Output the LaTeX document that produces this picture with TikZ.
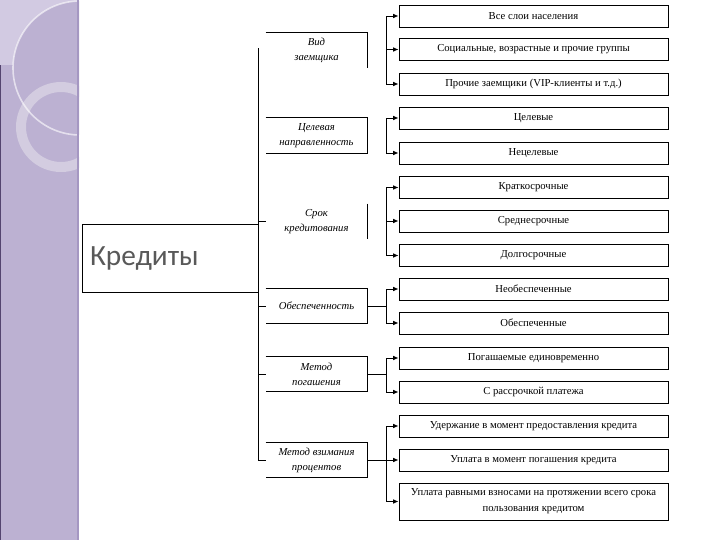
\documentclass[tikz,border=0pt]{standalone}
\usepackage{fontspec}
\setmainfont{Liberation Serif}
\newfontfamily\krfont{Carlito}
\usetikzlibrary{arrows.meta}
\definecolor{panel}{HTML}{BCB1D2}
\definecolor{panellight}{HTML}{D2CAE2}
\definecolor{panelring}{HTML}{D3CCE0}
\definecolor{paneledge}{HTML}{A597C2}
\definecolor{paneldark}{HTML}{54446F}
\definecolor{krtext}{HTML}{595959}
\begin{document}
\begin{tikzpicture}[x=0.75pt,y=-0.75pt,line width=0.7pt,
  item/.style={draw, minimum width=201.75pt, minimum height=16.5pt, inner sep=1pt,
    font=\fontsize{8}{12}\selectfont, align=center},
  cat/.style={minimum width=75.75pt, minimum height=26pt, inner sep=1pt,
    font=\fontsize{8}{11.25}\selectfont\itshape, align=center},
  arr/.style={-{Latex[length=4pt,width=3.5pt]}}]
\useasboundingbox (0,0) rectangle (720,540);
% left decorative panel
\begin{scope}
  \clip (0,0) rectangle (79,540);
  \fill[panel] (0,0) rectangle (79,540);
  \fill[panellight] (0,0) rectangle (79,65);
  \fill[panel] (80,68) circle (67);
  \fill[panelring, even odd rule] (61,127) circle (45) (61,127) circle (35);
  \draw[white, opacity=0.6, line width=1.2pt] (80,68) circle (67);
\end{scope}
\draw[paneldark, line width=1.2pt] (0.6,65) -- (0.6,540);
\draw[paneledge, line width=1.5pt] (78,0) -- (78,540);

% root
\node[draw, minimum width=132pt, minimum height=51pt, text width=120pt, inner xsep=6pt,
  align=left, text=krtext, font=\krfont\fontsize{22}{24}\selectfont] (kr) at (170,258) {Кредиты};

% categories
\node[cat] (c1) at (316.5,50.5) {Вид\\заемщика};
\node[cat] (c2) at (316.5,135.5) {Целевая\\направленность};
\node[cat] (c3) at (316.5,221.5) {Срок\\кредитования};
\node[cat] (c4) at (316.5,306) {Обеспеченность};
\node[cat] (c5) at (316.5,374) {Метод\\погашения};
\node[cat] (c6) at (316.5,460) {Метод взимания\\процентов};
\draw (c1.north west) -- (c1.north east) -- (c1.south east);
\draw (c2.north west) -- (c2.north east) -- (c2.south east) -- (c2.south west);
\draw (c3.north east) -- (c3.south east);
\draw (c4.north west) -- (c4.north east) -- (c4.south east) -- (c4.south west);
\draw (c5.north west) -- (c5.north east) -- (c5.south east) -- (c5.south west);
\draw (c6.north west) -- (c6.north east) -- (c6.south east) -- (c6.south west);

% main line
\coordinate (mt) at (258,48);
\draw (mt) -- (mt |- c6.west) -- (c6.west);
\draw (mt |- c3.west) -- (c3.west);
\draw (mt |- c4.west) -- (c4.west);
\draw (mt |- c5.west) -- (c5.west);

% leaves
\node[item] (b1) at (533.5,16) {Все слои населения};
\node[item] (b2) at (533.5,49.5) {Социальные, возрастные и прочие группы};
\node[item] (b3) at (533.5,84) {Прочие заемщики (VIP-клиенты и т.д.)};
\node[item] (b4) at (533.5,118) {Целевые};
\node[item] (b5) at (533.5,153) {Нецелевые};
\node[item] (b6) at (533.5,187.5) {Краткосрочные};
\node[item] (b7) at (533.5,221) {Среднесрочные};
\node[item] (b8) at (533.5,255.5) {Долгосрочные};
\node[item] (b9) at (533.5,289) {Необеспеченные};
\node[item] (b10) at (533.5,323) {Обеспеченные};
\node[item] (b11) at (533.5,358) {Погашаемые единовременно};
\node[item] (b12) at (533.5,392) {С рассрочкой платежа};
\node[item] (b13) at (533.5,426) {Удержание в момент предоставления кредита};
\node[item] (b14) at (533.5,460) {Уплата в момент погашения кредита};
\node[item, minimum height=27.75pt] (b15) at (533.5,501.5) {Уплата равными взносами на протяжении всего срока\\пользования кредитом};

% brackets
\coordinate (bx) at (386,0);
\draw (bx |- b1.west) -- (bx |- b3.west);
\foreach \b in {b1,b2,b3} \draw[arr] (bx |- \b.west) -- (\b.west);
\draw (bx |- b4.west) -- (bx |- b5.west);
\foreach \b in {b4,b5} \draw[arr] (bx |- \b.west) -- (\b.west);
\draw (bx |- b6.west) -- (bx |- b8.west);
\foreach \b in {b6,b7,b8} \draw[arr] (bx |- \b.west) -- (\b.west);
\draw (c4.east) -- (bx |- c4.east);
\draw (bx |- b9.west) -- (bx |- b10.west);
\foreach \b in {b9,b10} \draw[arr] (bx |- \b.west) -- (\b.west);
\draw (c5.east) -- (bx |- c5.east);
\draw (bx |- b11.west) -- (bx |- b12.west);
\foreach \b in {b11,b12} \draw[arr] (bx |- \b.west) -- (\b.west);
\draw (c6.east) -- (bx |- c6.east);
\draw (bx |- b13.west) -- (bx |- b15.west);
\foreach \b in {b13,b14,b15} \draw[arr] (bx |- \b.west) -- (\b.west);
\end{tikzpicture}
\end{document}
